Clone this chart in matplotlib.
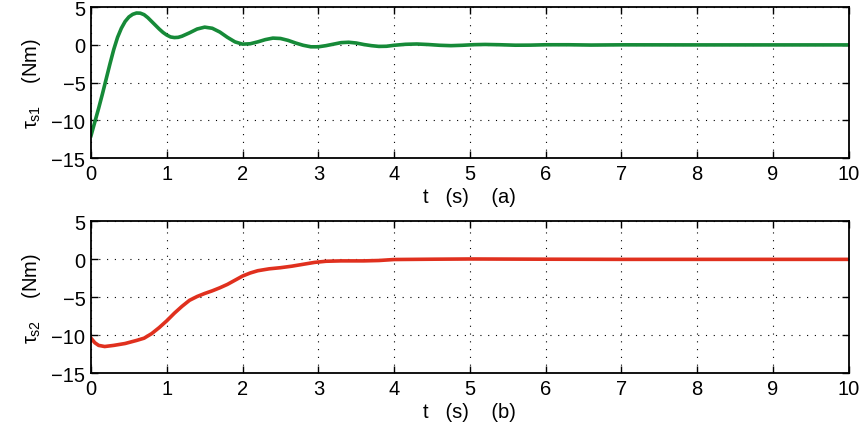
import numpy as np
import matplotlib.pyplot as plt

t1 = [0, 0.05, 0.10, 0.15, 0.20, 0.25, 0.30, 0.35, 0.40, 0.45, 0.50, 0.55,
      0.60, 0.65, 0.70, 0.75, 0.80, 0.85, 0.90, 0.95, 1.00, 1.05, 1.10, 1.15,
      1.20, 1.30, 1.40, 1.50, 1.60, 1.70, 1.80, 1.90, 2.00, 2.10, 2.20, 2.30,
      2.40, 2.50, 2.60, 2.70, 2.80, 2.90, 3.00, 3.10, 3.20, 3.30, 3.40, 3.50,
      3.60, 3.70, 3.80, 3.90, 4.00, 4.15, 4.30, 4.45, 4.60, 4.75, 4.90, 5.05,
      5.20, 5.40, 5.60, 5.80, 6.0, 6.3, 6.6, 7.0, 8.0, 9.0, 10.0]
tau1 = [-12.0, -10.2, -8.4, -6.5, -4.5, -2.5, -0.6, 1.0, 2.2, 3.1, 3.7, 4.05,
        4.22, 4.2, 4.0, 3.6, 3.1, 2.6, 2.1, 1.65, 1.3, 1.05, 0.97, 1.0,
        1.15, 1.6, 2.1, 2.35, 2.2, 1.7, 1.0, 0.4, 0.1, 0.15, 0.4, 0.7,
        0.9, 0.85, 0.6, 0.25, -0.05, -0.25, -0.25, -0.1, 0.1, 0.3, 0.35, 0.25,
        0.05, -0.1, -0.2, -0.18, -0.05, 0.08, 0.12, 0.05, -0.05, -0.1, -0.05, 0.03,
        0.06, 0.02, -0.04, -0.03, 0.02, 0.02, -0.02, 0.01, 0.0, 0.0, 0.0]

t2 = [0, 0.05, 0.10, 0.18, 0.30, 0.45, 0.60, 0.70, 0.80, 0.90, 1.00, 1.10,
      1.20, 1.30, 1.40, 1.50, 1.60, 1.70, 1.80, 1.90, 2.00, 2.10, 2.20, 2.35,
      2.50, 2.65, 2.80, 2.95, 3.10, 3.30, 3.60, 3.80, 4.00, 4.50, 5.00, 6.0,
      7.0, 10.0]
tau2 = [-10.4, -11.0, -11.35, -11.5, -11.35, -11.1, -10.7, -10.4, -9.8, -9.0, -8.1, -7.1,
        -6.2, -5.4, -4.9, -4.5, -4.15, -3.75, -3.3, -2.75, -2.2, -1.8, -1.5, -1.25,
        -1.1, -0.9, -0.65, -0.4, -0.25, -0.2, -0.2, -0.15, -0.02, 0.02, 0.05, 0.02,
        0.0, 0.0]

plt.rcParams['font.family'] = ['Liberation Sans', 'DejaVu Sans']
plt.rcParams['mathtext.fontset'] = 'custom'
plt.rcParams['mathtext.rm'] = 'Liberation Sans'
plt.rcParams['mathtext.it'] = 'Liberation Sans'

fig = plt.figure(figsize=(8.67, 4.27), dpi=100)
ax1 = fig.add_axes([0.105, 0.627, 0.874, 0.354])
ax2 = fig.add_axes([0.105, 0.124, 0.874, 0.355])

panels = [(ax1, t1, tau1, '#168a38', r'$\tau_{\mathrm{s1}}$    (Nm)', 't   (s)    (a)'),
          (ax2, t2, tau2, '#e0301e', r'$\tau_{\mathrm{s2}}$    (Nm)', 't   (s)    (b)')]

fs = 14.5
for ax, t, tau, col, ylab, xlab in panels:
    ax.plot(t, tau, color=col, lw=2.6)
    ax.set_xlim(0, 10)
    ax.set_ylim(-15, 5)
    ax.set_xticks(range(0, 11))
    ax.set_yticks([-15, -10, -5, 0, 5])
    ax.grid(True, color='black', linestyle=(0, (1, 6)), lw=0.8)
    ax.tick_params(direction='in', length=5, width=1, labelsize=fs,
                   top=True, right=True, pad=4)
    for s in ax.spines.values():
        s.set_linewidth(1.3)
    ax.set_xlabel(xlab, fontsize=fs, labelpad=3)
    ax.set_ylabel(ylab, fontsize=fs, labelpad=6)

fig.savefig('out.png', dpi=100)
